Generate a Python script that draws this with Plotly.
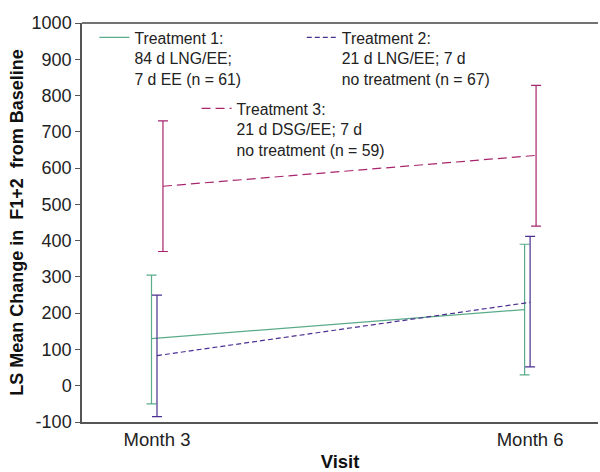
import plotly.graph_objects as go

visits = ["Month 3", "Month 6"]
visit_pos = [1, 2]

names = [
    "Treatment 1:<br>84 d LNG/EE;<br>7 d EE (n = 61)",
    "Treatment 2:<br>21 d LNG/EE; 7 d<br>no treatment (n = 67)",
    "Treatment 3:<br>21 d DSG/EE; 7 d<br>no treatment (n = 59)",
]
t1_mean = [130, 210]
t1_upper = [305, 390]
t1_lower = [-50, 30]
t2_mean = [83, 230]
t2_upper = [250, 412]
t2_lower = [-85, 52]
t3_mean = [550, 635]
t3_upper = [730, 828]
t3_lower = [370, 440]

y_ticks = [-100, 0, 100, 200, 300, 400, 500, 600, 700, 800, 900, 1000]
y_tick_labels = ["-100", "0", "100", "200", "300", "400", "500", "600", "700", "800", "900", "1000"]

FONT = "Liberation Sans, Arial, sans-serif"
colors = ["#5aab8a", "#4b2f90", "#a8256d"]
dashes = ["solid", "5px,3px", "9px,5px"]
offsets = [-0.0147, 0.0, 0.016]
legends = ["legend", "legend2", "legend3"]

series = [
    (t1_mean, t1_upper, t1_lower),
    (t2_mean, t2_upper, t2_lower),
    (t3_mean, t3_upper, t3_lower),
]

fig = go.Figure()
for i, (m, up, lo) in enumerate(series):
    fig.add_trace(go.Scatter(
        x=[p + offsets[i] for p in visit_pos],
        y=m,
        mode="lines",
        name=names[i],
        legend=legends[i],
        line=dict(color=colors[i], width=1.2, dash=dashes[i]),
        error_y=dict(
            type="data", symmetric=False,
            array=[u - v for u, v in zip(up, m)],
            arrayminus=[v - l for v, l in zip(m, lo)],
            color=colors[i], thickness=1.2, width=5,
        ),
    ))

leg_common = dict(
    bgcolor="rgba(0,0,0,0)", borderwidth=0, valign="top",
    font=dict(family=FONT, size=15.8, color="#222"),
    xanchor="left", yanchor="top", itemwidth=30, tracegroupgap=0,
)

fig.update_layout(
    width=600, height=472,
    margin=dict(l=82, r=2, t=23, b=50),
    paper_bgcolor="white", plot_bgcolor="white",
    font=dict(family=FONT, color="#222"),
    showlegend=True,
    legend=dict(x=0.024, y=1.006, **leg_common),
    legend2=dict(x=0.426, y=1.006, **leg_common),
    legend3=dict(x=0.222, y=0.828, **leg_common),
    xaxis=dict(
        range=[0.799, 2.182],
        tickvals=visit_pos, ticktext=visits,
        showgrid=False, zeroline=False,
        showline=True, linecolor="#555", linewidth=1.5,
        ticks="", tickfont=dict(family=FONT, size=18.5, color="#222"),
        title=dict(text="<b>Visit</b>", font=dict(family=FONT, size=18.5, color="#111"), standoff=8),
    ),
    yaxis=dict(
        range=[-100, 1000],
        tickvals=y_ticks, ticktext=y_tick_labels,
        showgrid=False, zeroline=False,
        showline=True, linecolor="#555", linewidth=1.5,
        ticks="outside", ticklen=5, tickcolor="#555",
        tickfont=dict(family=FONT, size=18, color="#222"),
        title=dict(text="<b>LS Mean Change in\u00a0\u00a0F1+2\u00a0\u00a0from Baseline</b>",
                   font=dict(family=FONT, size=18, color="#111"), standoff=3),
    ),
    shapes=[dict(type="line", xref="paper", yref="paper", x0=0, x1=1, y0=1, y1=1,
                 line=dict(color="#444", width=1.5))],
)

fig.write_html("out.html", config={"displayModeBar": False},
               post_script="document.body.style.margin='0px';document.body.style.overflow='hidden';")
